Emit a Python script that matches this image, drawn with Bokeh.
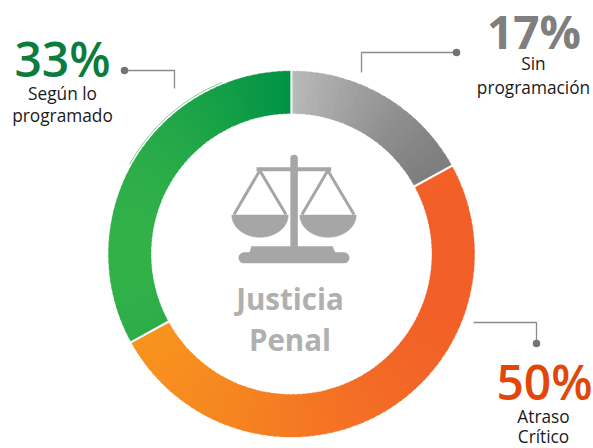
import math
import numpy as np
from bokeh.plotting import figure
from bokeh.models import Range1d
from bokeh.core.properties import value
from bokeh.embed import file_html
from bokeh.resources import INLINE

categories = ["Sin programación", "Atraso Crítico", "Según lo programado"]
values = [17, 50, 33]
percent_labels = ["17%", "50%", "33%"]
gradients = [("#bababa", "#757575"), ("#f8961d", "#f15a29"), ("#39b54a", "#009245")]
title_lines = ["Justicia", "Penal"]

W, H = 593, 448
CX, CY = 291.0, 253.5
R_OUT, R_IN = 183.0, 140.5
GREY = "#a6a6a6"

def px(x): return x - CX
def py(y): return CY - y

p = figure(width=W, height=H, output_backend="svg", toolbar_location=None,
           x_range=Range1d(px(0), px(W)), y_range=Range1d(py(H), py(0)),
           min_border=0, outline_line_color=None, background_fill_color="white")
p.axis.visible = False
p.grid.visible = False

def hex2rgb(c): return np.array([int(c[i:i+2], 16) for i in (1, 3, 5)], float)
def mix(a, b, t):
    r = hex2rgb(a) * (1 - t) + hex2rgb(b) * t
    return "#%02x%02x%02x" % tuple(int(round(v)) for v in r)

# ring: clockwise from 12 o'clock, horizontal gradient per slice
total = sum(values)
start = 0.0
bounds = []
for v, (c0, c1) in zip(values, gradients):
    end = start + v / total * 2 * math.pi
    n = max(6, int(math.degrees(end - start) / 2))
    edges = np.linspace(start, end, n + 1)
    mids = (edges[:-1] + edges[1:]) / 2
    xs = R_OUT * np.sin(np.linspace(start, end, 400))
    xlo, xhi = xs.min(), xs.max()
    xm = (R_OUT + R_IN) / 2 * np.sin(mids)
    ts = np.clip((xm - xlo) / (xhi - xlo), 0, 1)
    cols = [mix(c0, c1, t) for t in ts]
    a0 = math.pi / 2 - edges[1:] - 0.004
    a1 = math.pi / 2 - edges[:-1] + 0.004
    p.annular_wedge(x=0, y=0, inner_radius=R_IN, outer_radius=R_OUT,
                    start_angle=a0, end_angle=a1, direction="anticlock",
                    fill_color=cols, line_color=cols, line_width=0.3)
    bounds.append(start)
    start = end

# white separators
for b in bounds:
    p.segment(x0=(R_IN - 2) * math.sin(b), y0=(R_IN - 2) * math.cos(b),
              x1=(R_OUT + 2) * math.sin(b), y1=(R_OUT + 2) * math.cos(b),
              line_color="white", line_width=2.2)

# thin pale line just outside the green slice
p.arc(x=0, y=0, radius=185.2, start_angle=math.radians(112), end_angle=math.radians(151),
      direction="anticlock", line_color="#86d095", line_width=1.0)

# leaders
leaders = [
    ([124, 174, 174], [70, 70, 88], (124, 70)),
    ([456, 361, 361], [52, 52, 72], (456, 52)),
    ([473, 536, 536], [322, 322, 343], (536, 343)),
]
for xs, ys, dot in leaders:
    p.line([px(x) for x in xs], [py(y) for y in ys], line_color="#8a8a8a", line_width=1.3)
    p.scatter([px(dot[0])], [py(dot[1])], size=7.5, fill_color="#737373", line_color=None)

# balance icon
p.segment(x0=px(256), y0=py(168.8), x1=px(330.7), y1=py(168.8), line_color=GREY, line_width=4)
p.segment(x0=px(293.6), y0=py(158), x1=px(293.6), y1=py(250), line_color=GREY, line_width=7.5, line_cap="round")
for apex, lo, hi in [(259.3, 233.5, 285.5), (327.3, 301.5, 353.5)]:
    p.line([px(lo), px(apex), px(hi)], [py(214), py(170), py(214)], line_color=GREY, line_width=3, line_join="round")
    mid = (lo + hi) / 2
    th = np.linspace(0, math.pi, 50)
    p.patch(px(mid) + 28.2 * np.cos(th), py(214.5) - 22.3 * np.sin(th), fill_color=GREY, line_color=GREY, line_width=0.5)
p.patch([px(x) for x in [249, 251, 332, 335, 335, 249]], [py(y) for y in [253, 246, 246, 253, 254, 254]],
        fill_color=GREY, line_color=GREY, line_width=0.5)
p.segment(x0=px(243.5), y0=py(257.3), x1=px(343.5), y1=py(257.3), line_color=GREY, line_width=11, line_cap="round")

def label(x, y, s, size, color, style="normal", font="Open Sans"):
    p.text(x=[px(x)], y=[py(y - 0.40 * size)], text=[s], text_font=value(font), text_font_size=f"{size}px",
           text_font_style=style, text_color=color, text_align="center", text_baseline="middle")

# centre title
label(289.5, 310, title_lines[0], 29.5, "#b0b0b0", "bold")
label(289.5, 351, title_lines[1], 29.5, "#b0b0b0", "bold")

# percentages
label(533.5, 48.5, percent_labels[0], 46, "#7f7f7f", "bold")
label(544, 400, percent_labels[1], 48, "#e2470a", font="Open Sans SemiBold")
label(62, 77, percent_labels[2], 48, "#0b7c3e", font="Open Sans SemiBold")

# captions
label(533, 70, "Sin", 17.3, "#1a1a1a")
label(533, 94, "programación", 17.3, "#1a1a1a")
label(62, 100, "Según lo", 17.3, "#1a1a1a")
label(62, 122, "programado", 17.3, "#1a1a1a")
label(543, 422.5, "Atraso", 17.3, "#1a1a1a")
label(543, 443, "Crítico", 17.3, "#1a1a1a")

open("out.html", "w").write(file_html(p, INLINE))
